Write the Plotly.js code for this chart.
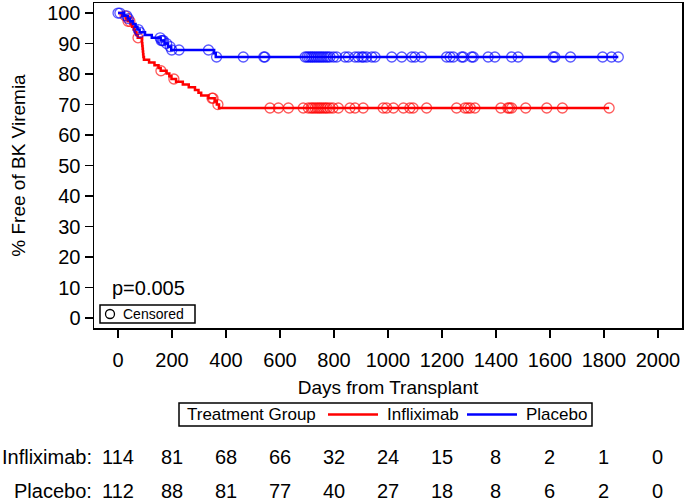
<!DOCTYPE html>
<html><head><meta charset="utf-8">
<script src="https://cdn.plot.ly/plotly-3.0.1.min.js"></script>
<style>html,body{margin:0;padding:0;background:#fff}#chart{width:684px;height:501px}</style>
</head><body><div id="chart"></div>
<script>
// Kaplan-Meier step data (day of event, % free after event)
const inflixEventDays = [0, 15, 30, 36, 46, 52, 58, 63, 68, 73, 88, 89, 90, 91, 92, 93, 94, 96, 115, 135, 150, 158, 180, 190, 198, 215, 240, 262, 285, 298, 308, 335, 358, 366, 374];
const inflixSurvival  = [100, 99.1, 98.2, 97.3, 96.4, 95.5, 94.6, 93.7, 92.8, 91.9, 91.0, 90.1, 89.2, 88.3, 87.4, 86.5, 85.6, 84.7, 83.8, 82.9, 82.0, 81.1, 80.2, 79.3, 78.4, 77.5, 76.6, 75.7, 74.8, 73.9, 73.0, 72.1, 71.1, 70.0, 68.9];
const inflixLastDay = 1819;
const placeboEventDays = [0, 22, 36, 45, 55, 65, 72, 80, 100, 125, 158, 172, 185, 197, 356, 362];
const placeboSurvival  = [100, 99.1, 98.2, 97.3, 96.4, 95.5, 94.6, 93.7, 92.8, 91.9, 91.0, 90.0, 89.0, 87.9, 86.8, 85.6];
const placeboLastDay = 1853;

// Censoring days
const inflixCensorDays = [26, 37, 44, 74, 159, 207, 348, 352, 370, 563, 594, 631, 686, 705, 715, 722, 730, 738, 745, 752, 760, 768, 775, 785, 796, 816, 859, 878, 908, 982, 995, 1020, 1057, 1081, 1093, 1143, 1254, 1285, 1295, 1305, 1322, 1418, 1444, 1450, 1458, 1510, 1588, 1646, 1819];
const placeboCensorDays = [0, 7, 32, 38, 75, 81, 156, 160, 164, 168, 180, 193, 199, 226, 335, 365, 464, 540, 544, 693, 700, 707, 714, 720, 727, 734, 741, 748, 755, 762, 770, 777, 785, 798, 810, 841, 853, 878, 890, 903, 909, 921, 940, 952, 1014, 1051, 1088, 1100, 1124, 1217, 1230, 1242, 1273, 1279, 1310, 1316, 1371, 1396, 1458, 1482, 1612, 1618, 1676, 1795, 1828, 1853];

// Number at risk table
const riskDays = [0, 200, 400, 600, 800, 1000, 1200, 1400, 1600, 1800, 2000];
const inflixAtRisk = [114, 81, 68, 66, 32, 24, 15, 8, 2, 1, 0];
const placeboAtRisk = [112, 88, 81, 77, 40, 27, 18, 8, 6, 2, 0];
const rowLabels = ['Infliximab:', 'Placebo:'];
const groupNames = ['Infliximab', 'Placebo'];
const pValueText = 'p=0.005';

const RED = '#ff0000', BLUE = '#0000ff';
const FONT = '"Liberation Sans", Arial, Helvetica, sans-serif';

function survAt(days, surv, t) {
  let s = surv[0];
  for (let i = 0; i < days.length; i++) if (days[i] <= t) s = surv[i];
  return s;
}
function stepTrace(days, surv, last, color, name) {
  return {x: days.concat([last]), y: surv.concat([surv[surv.length-1]]), type: 'scatter', mode: 'lines',
    line: {shape: 'hv', color: color, width: 2.5}, name: name, showlegend: false, hoverinfo: 'skip'};
}
function censorTrace(cdays, days, surv, color, name) {
  return {x: cdays, y: cdays.map(t => survAt(days, surv, t)), type: 'scatter', mode: 'markers',
    marker: {symbol: 'circle-open', size: 10, color: color, line: {width: 1.3, color: color}, opacity: 0.65},
    name: name + ' censored', showlegend: false};
}

const traces = [
  stepTrace(inflixEventDays, inflixSurvival, inflixLastDay, RED, groupNames[0]),
  censorTrace(inflixCensorDays, inflixEventDays, inflixSurvival, RED, groupNames[0]),
  stepTrace(placeboEventDays, placeboSurvival, placeboLastDay, BLUE, groupNames[1]),
  censorTrace(placeboCensorDays, placeboEventDays, placeboSurvival, BLUE, groupNames[1])
];

// pixel helpers (plot area: l=94, t=3, w=588, h=325)
const L = 94, T = 3, W = 588, H = 325;
const px = x => (x - L) / W;
const py = y => (T + H - y) / H;

const annotations = [];
annotations.push({text: pValueText, xref: 'paper', yref: 'paper', x: px(110), y: py(288), xanchor: 'left', yanchor: 'middle', showarrow: false, font: {size: 20, color: '#000', family: FONT}});
annotations.push({text: 'Censored', xref: 'paper', yref: 'paper', x: px(121), y: py(314), xanchor: 'left', yanchor: 'middle', showarrow: false, font: {size: 14, color: '#000', family: FONT}});
const rowsY = [457, 491];
const rowsData = [inflixAtRisk, placeboAtRisk];
rowLabels.forEach((lab, r) => {
  annotations.push({text: lab, xref: 'paper', yref: 'paper', x: px(94), y: py(rowsY[r]), xanchor: 'right', yanchor: 'middle', showarrow: false, font: {size: 20, color: '#000', family: FONT}});
  riskDays.forEach((d, i) => {
    annotations.push({text: String(rowsData[r][i]), xref: 'x', yref: 'paper', x: d, y: py(rowsY[r]), xanchor: 'center', yanchor: 'middle', showarrow: false, font: {size: 20, color: '#000', family: FONT}});
  });
});
// Treatment group legend
const legY = py(414.5);
annotations.push({text: 'Treatment Group', xref: 'paper', yref: 'paper', x: px(185), y: legY, xanchor: 'left', yanchor: 'middle', showarrow: false, font: {size: 17, color: '#000', family: FONT}});
annotations.push({text: groupNames[0], xref: 'paper', yref: 'paper', x: px(385), y: legY, xanchor: 'left', yanchor: 'middle', showarrow: false, font: {size: 17, color: '#000', family: FONT}});
annotations.push({text: groupNames[1], xref: 'paper', yref: 'paper', x: px(524), y: legY, xanchor: 'left', yanchor: 'middle', showarrow: false, font: {size: 17, color: '#000', family: FONT}});

const shapes = [
  {type: 'rect', xref: 'paper', yref: 'paper', x0: px(179), x1: px(592), y0: py(426), y1: py(403), line: {color: '#000', width: 1.5}, fillcolor: 'rgba(0,0,0,0)'},
  {type: 'line', xref: 'paper', yref: 'paper', x0: px(328), x1: px(378), y0: legY, y1: legY, line: {color: RED, width: 2.5}},
  {type: 'line', xref: 'paper', yref: 'paper', x0: px(467), x1: px(517), y0: legY, y1: legY, line: {color: BLUE, width: 2.5}},
  {type: 'rect', xref: 'paper', yref: 'paper', x0: px(100), x1: px(195), y0: py(323), y1: py(305), line: {color: '#000', width: 1.5}, fillcolor: '#fff'},
  {type: 'circle', xref: 'paper', yref: 'paper', xsizemode: 'pixel', ysizemode: 'pixel', xanchor: px(110), yanchor: py(314), x0: -4.5, x1: 4.5, y0: -4.5, y1: 4.5, line: {color: '#000', width: 1.3}}
];

const layout = {
  width: 684, height: 501,
  margin: {l: L, r: 2, t: T, b: 501 - T - H, pad: 0},
  paper_bgcolor: '#fff', plot_bgcolor: '#fff',
  font: {family: FONT, color: '#000', size: 20},
  showlegend: false,
  xaxis: {range: [-89, 2089], tickvals: riskDays, ticktext: riskDays.map(String), ticks: 'outside', ticklen: 8, tickwidth: 1.5, tickcolor: '#000',
    showline: true, linecolor: '#000', linewidth: 1.5, mirror: true, showgrid: false, zeroline: false, ticklabelstandoff: 5,
    tickfont: {size: 20, family: FONT, color: '#000'},
    title: {text: 'Days from Transplant', font: {size: 19, family: FONT, color: '#000'}, standoff: 11}},
  yaxis: {range: [-3.2, 103.3], tickvals: [0,10,20,30,40,50,60,70,80,90,100], ticks: 'outside', ticklen: 8, tickwidth: 1.5, tickcolor: '#000',
    showline: true, linecolor: '#000', linewidth: 1.5, mirror: true, showgrid: false, zeroline: false,
    tickfont: {size: 20, family: FONT, color: '#000'},
    title: {text: '% Free of BK Viremia', font: {size: 19, family: FONT, color: '#000'}, standoff: 16}},
  annotations: annotations,
  shapes: shapes
};

Plotly.newPlot('chart', traces, layout, {displayModeBar: false, staticPlot: true});
</script>
</body></html>
